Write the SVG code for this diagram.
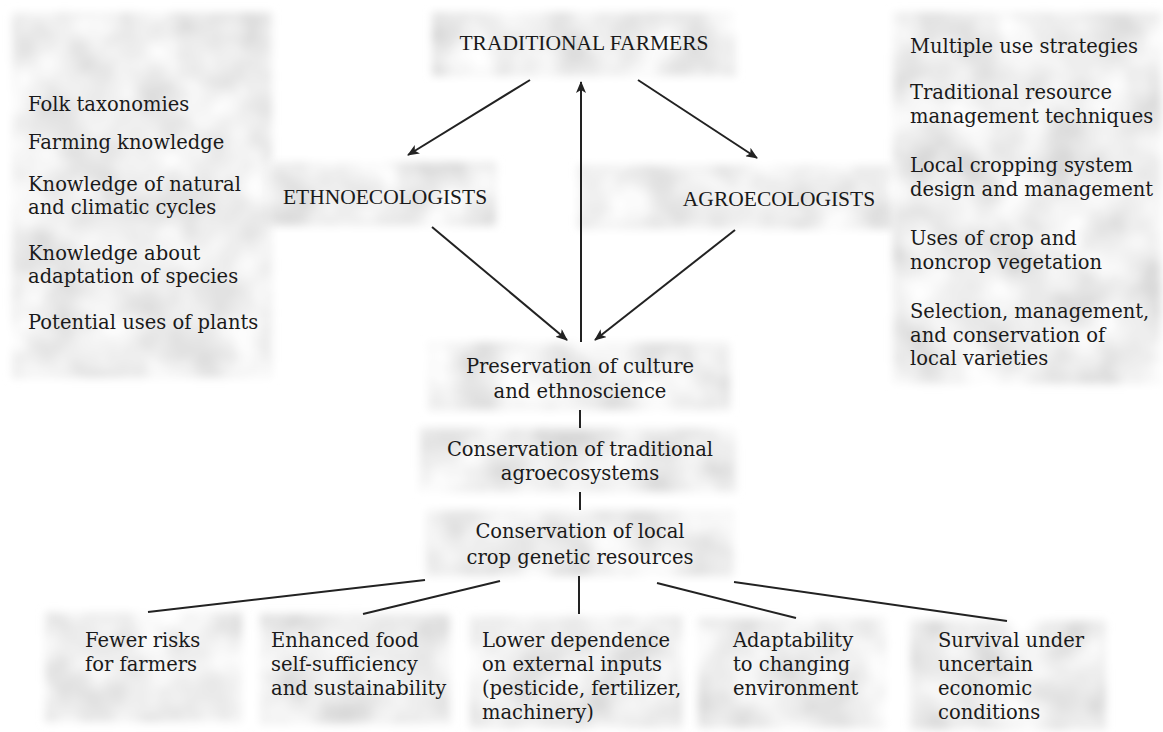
<svg xmlns="http://www.w3.org/2000/svg" width="1163" height="732" viewBox="0 0 1163 732">
<style>
.t{font-family:"DejaVu Serif","Liberation Serif",serif;font-size:19.5px;fill:#1a1a1a}
.k{font-family:"Liberation Serif","Times New Roman",serif;font-size:21.5px;fill:#1a1a1a}
.c{text-anchor:middle}
.box{fill:#d6d6d6;filter:url(#tex)}
.ln{stroke:#222;stroke-width:2;fill:none}
.ar{stroke:#222;stroke-width:2;fill:none;marker-end:url(#ah)}
</style>
<defs>
<filter id="tex" x="-10%" y="-10%" width="120%" height="120%">
<feTurbulence type="fractalNoise" baseFrequency="0.022" numOctaves="3" seed="7" result="noise"/>
<feColorMatrix in="noise" type="matrix" values="0.5 0 0 0 0.6  0.5 0 0 0 0.6  0.5 0 0 0 0.6  0 0 0 0 1" result="gray"/>
<feComposite in="gray" in2="SourceGraphic" operator="in" result="tx"/>
<feGaussianBlur in="tx" stdDeviation="4"/>
</filter>
<marker id="ah" viewBox="0 0 12 10" refX="11" refY="5" markerWidth="12" markerHeight="10" markerUnits="userSpaceOnUse" orient="auto">
<path d="M0,0 L12,5 L0,10 L3,5 Z" fill="#222"/>
</marker>
</defs>
<rect width="1163" height="732" fill="#fff"/>

<g id="left-list">
<rect class="box" x="12" y="12" width="260" height="366"/>
<text class="t" x="28" y="111">Folk taxonomies</text>
<text class="t" x="28" y="149">Farming knowledge</text>
<text class="t" x="28" y="191">Knowledge of natural</text>
<text class="t" x="28" y="214">and climatic cycles</text>
<text class="t" x="28" y="260">Knowledge about</text>
<text class="t" x="28" y="283">adaptation of species</text>
<text class="t" x="28" y="329">Potential uses of plants</text>
</g>

<g id="traditional-farmers">
<rect class="box" x="432" y="12" width="304" height="64"/>
<text class="k c" x="584" y="50">TRADITIONAL FARMERS</text>
</g>

<g id="ethnoecologists">
<rect class="box" x="268" y="162" width="228" height="64"/>
<text class="k c" x="385" y="204">ETHNOECOLOGISTS</text>
</g>

<g id="agroecologists">
<rect class="box" x="578" y="165" width="318" height="64"/>
<text class="k c" x="779" y="206">AGROECOLOGISTS</text>
</g>

<g id="right-list">
<rect class="box" x="893" y="12" width="268" height="372"/>
<text class="t" x="910" y="53">Multiple use strategies</text>
<text class="t" x="910" y="99">Traditional resource</text>
<text class="t" x="910" y="123">management techniques</text>
<text class="t" x="910" y="172">Local cropping system</text>
<text class="t" x="910" y="196">design and management</text>
<text class="t" x="910" y="245">Uses of crop and</text>
<text class="t" x="910" y="269">noncrop vegetation</text>
<text class="t" x="910" y="318">Selection, management,</text>
<text class="t" x="910" y="342">and conservation of</text>
<text class="t" x="910" y="365">local varieties</text>
</g>

<g id="preservation">
<rect class="box" x="428" y="342" width="302" height="68"/>
<text class="t c" x="580" y="373">Preservation of culture</text>
<text class="t c" x="580" y="398">and ethnoscience</text>
</g>

<g id="conservation-agro">
<rect class="box" x="420" y="428" width="316" height="64"/>
<text class="t c" x="580" y="456">Conservation of traditional</text>
<text class="t c" x="580" y="480">agroecosystems</text>
</g>

<g id="conservation-genetic">
<rect class="box" x="426" y="510" width="308" height="66"/>
<text class="t c" x="580" y="538">Conservation of local</text>
<text class="t c" x="580" y="564">crop genetic resources</text>
</g>

<g id="fewer-risks">
<rect class="box" x="45" y="612" width="197" height="110"/>
<text class="t" x="85" y="647">Fewer risks</text>
<text class="t" x="85" y="671">for farmers</text>
</g>

<g id="food-self-sufficiency">
<rect class="box" x="260" y="614" width="190" height="110"/>
<text class="t" x="271" y="647">Enhanced food</text>
<text class="t" x="271" y="671">self-sufficiency</text>
<text class="t" x="271" y="695">and sustainability</text>
</g>

<g id="lower-dependence">
<rect class="box" x="470" y="616" width="212" height="112"/>
<text class="t" x="482" y="647">Lower dependence</text>
<text class="t" x="482" y="671">on external inputs</text>
<text class="t" x="482" y="695">(pesticide, fertilizer,</text>
<text class="t" x="482" y="719">machinery)</text>
</g>

<g id="adaptability">
<rect class="box" x="698" y="618" width="188" height="110"/>
<text class="t" x="733" y="647">Adaptability</text>
<text class="t" x="733" y="671">to changing</text>
<text class="t" x="733" y="695">environment</text>
</g>

<g id="survival">
<rect class="box" x="910" y="620" width="196" height="110"/>
<text class="t" x="938" y="647">Survival under</text>
<text class="t" x="938" y="671">uncertain</text>
<text class="t" x="938" y="695">economic</text>
<text class="t" x="938" y="719">conditions</text>
</g>

<g id="connectors">
<line class="ar" x1="530" y1="80" x2="408" y2="155"/>
<line class="ar" x1="581" y1="342" x2="581" y2="82"/>
<line class="ar" x1="638" y1="80" x2="757" y2="158"/>
<line class="ar" x1="432" y1="227" x2="567" y2="340"/>
<line class="ar" x1="735" y1="230" x2="595" y2="340"/>
<line class="ln" x1="580" y1="410" x2="580" y2="428"/>
<line class="ln" x1="580" y1="492" x2="580" y2="510"/>
<line class="ln" x1="425" y1="580" x2="148" y2="612"/>
<line class="ln" x1="500" y1="581" x2="363" y2="614"/>
<line class="ln" x1="579" y1="576" x2="579" y2="614"/>
<line class="ln" x1="657" y1="583" x2="796" y2="618"/>
<line class="ln" x1="734" y1="582" x2="1007" y2="621"/>
</g>
</svg>
